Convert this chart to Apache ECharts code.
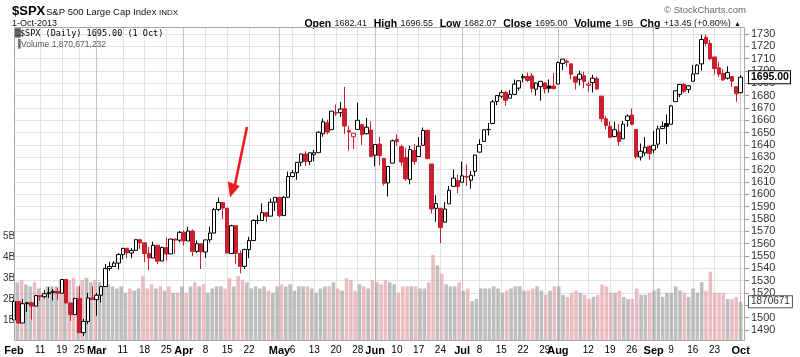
<!DOCTYPE html>
<html><head><meta charset="utf-8">
<script src="https://cdn.jsdelivr.net/npm/echarts@6/dist/echarts.min.js"></script>
<style>html,body{margin:0;padding:0;background:#fff}#c{width:800px;height:357px}</style>
</head><body><div id="c"></div>
<script>
const dates = [
'2013-02-01','2013-02-04','2013-02-05','2013-02-06','2013-02-07','2013-02-08','2013-02-11','2013-02-12','2013-02-13','2013-02-14','2013-02-15','2013-02-19','2013-02-20','2013-02-21','2013-02-22','2013-02-25','2013-02-26','2013-02-27','2013-02-28',
'2013-03-01','2013-03-04','2013-03-05','2013-03-06','2013-03-07','2013-03-08','2013-03-11','2013-03-12','2013-03-13','2013-03-14','2013-03-15','2013-03-18','2013-03-19','2013-03-20','2013-03-21','2013-03-22','2013-03-25','2013-03-26','2013-03-27','2013-03-28',
'2013-04-01','2013-04-02','2013-04-03','2013-04-04','2013-04-05','2013-04-08','2013-04-09','2013-04-10','2013-04-11','2013-04-12','2013-04-15','2013-04-16','2013-04-17','2013-04-18','2013-04-19','2013-04-22','2013-04-23','2013-04-24','2013-04-25','2013-04-26','2013-04-29','2013-04-30',
'2013-05-01','2013-05-02','2013-05-03','2013-05-06','2013-05-07','2013-05-08','2013-05-09','2013-05-10','2013-05-13','2013-05-14','2013-05-15','2013-05-16','2013-05-17','2013-05-20','2013-05-21','2013-05-22','2013-05-23','2013-05-24','2013-05-28','2013-05-29','2013-05-30','2013-05-31',
'2013-06-03','2013-06-04','2013-06-05','2013-06-06','2013-06-07','2013-06-10','2013-06-11','2013-06-12','2013-06-13','2013-06-14','2013-06-17','2013-06-18','2013-06-19','2013-06-20','2013-06-21','2013-06-24','2013-06-25','2013-06-26','2013-06-27','2013-06-28',
'2013-07-01','2013-07-02','2013-07-03','2013-07-05','2013-07-08','2013-07-09','2013-07-10','2013-07-11','2013-07-12','2013-07-15','2013-07-16','2013-07-17','2013-07-18','2013-07-19','2013-07-22','2013-07-23','2013-07-24','2013-07-25','2013-07-26','2013-07-29','2013-07-30','2013-07-31',
'2013-08-01','2013-08-02','2013-08-05','2013-08-06','2013-08-07','2013-08-08','2013-08-09','2013-08-12','2013-08-13','2013-08-14','2013-08-15','2013-08-16','2013-08-19','2013-08-20','2013-08-21','2013-08-22','2013-08-23','2013-08-26','2013-08-27','2013-08-28','2013-08-29','2013-08-30',
'2013-09-03','2013-09-04','2013-09-05','2013-09-06','2013-09-09','2013-09-10','2013-09-11','2013-09-12','2013-09-13','2013-09-16','2013-09-17','2013-09-18','2013-09-19','2013-09-20','2013-09-23','2013-09-24','2013-09-25','2013-09-26','2013-09-27','2013-09-30',
'2013-10-01'];

const opens = [
1498.11,1513.17,1495.71,1511.29,1512.12,1509.39,1517.93,1517.01,1519.43,1520.33,1521.38,1519.79,1530.94,1511.95,1502.42,1515.60,1487.85,1496.94,1515.99,
1514.68,1518.20,1525.20,1539.79,1541.46,1544.26,1551.15,1556.22,1552.48,1554.52,1563.21,1560.70,1552.10,1548.34,1558.71,1545.90,1556.89,1551.69,1563.75,1562.86,
1569.18,1562.17,1570.25,1553.69,1559.98,1553.26,1563.11,1568.61,1587.73,1593.30,1588.84,1552.01,1574.57,1552.03,1541.61,1555.25,1562.50,1578.78,1578.78,1585.16,1582.34,1593.58,
1597.55,1582.77,1597.60,1614.40,1617.55,1625.95,1632.69,1626.69,1632.10,1633.75,1649.13,1658.07,1652.45,1665.71,1666.20,1669.39,1651.62,1646.67,1652.63,1656.57,1649.14,1652.13,
1631.71,1640.73,1629.05,1609.29,1625.27,1644.67,1638.64,1629.94,1612.15,1635.52,1630.64,1639.77,1651.83,1624.62,1588.62,1588.77,1577.52,1592.27,1606.44,1611.12,
1609.78,1614.29,1611.48,1618.65,1634.20,1642.89,1652.50,1657.41,1675.26,1679.59,1682.70,1677.91,1681.05,1686.15,1694.41,1695.53,1696.06,1685.21,1687.31,1690.32,1687.92,1687.76,
1689.42,1706.10,1708.01,1705.79,1695.30,1693.35,1696.10,1688.37,1690.65,1693.88,1679.61,1661.22,1655.25,1646.81,1650.66,1645.03,1659.92,1664.29,1652.54,1630.25,1633.50,1638.89,
1635.95,1640.72,1653.28,1657.44,1656.85,1675.11,1681.04,1689.21,1685.04,1691.70,1697.73,1705.74,1727.34,1722.44,1711.44,1702.60,1698.02,1694.05,1695.52,1687.26,
1682.41];

const highs = [
1514.41,1513.17,1514.96,1512.53,1512.90,1518.31,1518.31,1522.29,1524.69,1523.14,1524.24,1530.94,1530.94,1511.95,1515.64,1525.84,1498.99,1520.08,1525.34,
1519.99,1525.27,1543.47,1545.25,1545.78,1552.48,1556.27,1556.77,1556.39,1563.32,1563.62,1560.70,1557.25,1561.56,1558.71,1557.74,1564.91,1563.95,1564.07,1570.28,
1570.57,1573.66,1571.47,1562.60,1559.98,1563.07,1573.89,1589.07,1597.35,1593.30,1588.84,1575.35,1574.57,1554.38,1555.89,1565.55,1579.58,1583.00,1592.64,1585.78,1596.65,1597.57,
1597.55,1598.60,1618.46,1619.77,1626.03,1632.78,1635.01,1633.70,1636.00,1651.10,1661.49,1660.51,1667.47,1672.84,1674.93,1687.18,1655.50,1649.78,1674.21,1656.57,1661.91,1658.99,
1640.42,1646.53,1629.31,1622.56,1644.40,1648.69,1640.13,1637.71,1639.25,1640.80,1646.50,1654.19,1652.45,1624.62,1599.19,1588.77,1593.79,1606.83,1620.07,1615.94,
1626.61,1624.26,1618.97,1632.07,1644.68,1652.18,1657.92,1676.63,1680.19,1684.51,1683.73,1684.75,1693.12,1692.09,1697.61,1698.78,1698.38,1690.94,1691.85,1690.92,1693.19,1698.43,
1707.85,1709.67,1709.24,1705.79,1695.30,1700.18,1699.42,1691.49,1696.81,1695.52,1679.61,1663.60,1659.18,1658.92,1656.99,1659.55,1664.85,1669.51,1652.54,1641.18,1646.41,1640.08,
1651.35,1655.72,1659.17,1664.83,1672.40,1684.09,1689.13,1689.97,1688.73,1704.95,1705.52,1729.44,1729.86,1725.23,1711.44,1707.63,1701.71,1703.85,1695.52,1687.26,
1696.55];

const lows = [
1498.11,1495.02,1495.71,1504.71,1498.49,1509.39,1513.61,1515.61,1515.93,1514.02,1514.14,1519.79,1511.41,1497.29,1502.42,1487.85,1485.01,1494.88,1514.46,
1501.48,1512.29,1525.20,1538.11,1541.46,1539.28,1547.36,1548.24,1548.25,1554.52,1555.74,1545.13,1538.57,1548.34,1543.55,1545.90,1546.22,1551.69,1551.90,1561.08,
1558.47,1562.17,1549.80,1552.52,1539.50,1548.63,1560.92,1568.61,1586.17,1579.97,1552.28,1552.01,1543.69,1536.03,1539.40,1548.19,1562.50,1575.80,1578.78,1577.56,1582.34,1586.50,
1581.28,1582.77,1597.60,1614.21,1611.82,1622.70,1623.09,1623.71,1626.74,1633.75,1646.68,1648.60,1652.45,1663.52,1662.67,1648.86,1635.53,1636.88,1652.63,1640.05,1648.61,1630.74,
1622.72,1623.62,1607.09,1598.23,1625.27,1639.26,1622.92,1610.92,1608.07,1623.96,1630.34,1639.77,1628.91,1584.32,1577.70,1560.33,1577.09,1592.27,1606.44,1601.06,
1609.78,1606.77,1604.57,1614.71,1634.20,1642.89,1647.66,1657.41,1672.33,1677.89,1671.84,1677.91,1681.05,1684.08,1690.67,1691.13,1682.57,1680.07,1676.03,1681.86,1682.42,1684.94,
1689.42,1700.68,1703.55,1693.29,1684.91,1688.38,1686.02,1683.35,1682.62,1684.83,1658.59,1652.61,1645.84,1646.08,1639.43,1645.03,1654.81,1656.02,1629.05,1627.47,1630.88,1628.05,
1633.41,1637.41,1653.07,1640.62,1656.85,1675.11,1678.70,1681.96,1682.22,1691.70,1697.73,1700.35,1720.20,1708.89,1697.10,1694.90,1691.88,1693.11,1687.11,1674.99,
1682.07];

const closes = [
1513.17,1495.71,1511.29,1512.12,1509.39,1517.93,1517.01,1519.43,1520.33,1521.38,1519.79,1530.94,1511.95,1502.42,1515.60,1487.85,1496.94,1515.99,1514.68,
1518.20,1525.20,1539.79,1541.46,1544.26,1551.18,1556.22,1552.48,1554.52,1563.23,1560.70,1552.10,1548.34,1558.71,1545.80,1556.89,1551.69,1563.77,1562.85,1569.19,
1562.17,1570.25,1553.69,1559.98,1553.28,1563.07,1568.61,1587.73,1593.37,1588.85,1552.36,1574.57,1552.01,1541.61,1555.25,1562.50,1578.78,1578.79,1585.16,1582.24,1593.61,1597.57,
1582.70,1597.59,1614.42,1617.50,1625.96,1632.69,1626.67,1633.70,1633.77,1650.34,1658.78,1650.47,1667.47,1666.29,1669.16,1655.35,1650.51,1649.60,1660.06,1648.36,1654.41,1630.74,
1640.42,1631.38,1608.90,1622.56,1643.38,1642.81,1626.13,1612.52,1636.36,1626.73,1639.04,1651.81,1628.93,1588.19,1592.43,1573.09,1588.03,1603.26,1613.20,1606.28,
1614.96,1614.08,1615.41,1631.89,1640.46,1652.32,1652.62,1675.02,1680.19,1682.50,1676.26,1680.91,1689.37,1692.09,1695.53,1692.39,1685.94,1690.25,1691.65,1685.33,1685.96,1685.73,
1706.87,1709.67,1707.14,1697.37,1690.91,1697.48,1691.42,1689.47,1694.16,1685.39,1661.32,1655.83,1646.06,1652.35,1642.80,1656.96,1663.50,1656.78,1630.48,1634.96,1638.17,1632.97,
1639.77,1653.08,1655.08,1655.17,1671.71,1683.99,1689.13,1683.42,1687.99,1697.60,1704.76,1725.52,1722.34,1709.91,1701.84,1697.42,1692.77,1698.67,1691.75,1681.55,
1695.00];

// volume in billions of shares
const volumes = [
2.8,2.9,2.7,2.6,2.8,2.5,2.3,2.6,2.6,2.6,2.9,2.7,2.9,3.0,2.6,2.9,3.0,2.8,2.9,
2.8,2.6,2.7,2.6,2.5,2.6,2.3,2.5,2.4,2.5,3.1,2.5,2.7,2.5,2.6,2.4,2.6,2.3,2.3,2.6,
2.3,2.6,2.8,2.6,2.7,2.3,2.5,2.6,2.6,2.5,3.0,2.6,3.1,2.9,2.8,2.5,2.6,2.5,2.6,2.4,2.3,2.6,
2.7,2.6,2.7,2.4,2.6,2.6,2.6,2.5,2.3,2.5,2.6,2.6,2.8,2.5,2.4,3.0,2.9,2.4,2.7,2.6,2.5,2.9,
2.8,2.7,2.9,2.8,2.7,2.3,2.6,2.6,2.6,2.6,2.5,2.5,2.8,4.1,3.6,3.2,2.7,2.6,2.6,2.8,
2.4,2.5,1.9,2.0,2.5,2.5,2.5,2.6,2.5,2.3,2.4,2.5,2.6,2.6,2.4,2.4,2.5,2.6,2.4,2.2,2.4,2.6,
2.6,2.2,2.1,2.3,2.4,2.3,2.2,2.0,2.1,2.2,2.7,2.6,2.3,2.3,2.4,2.1,2.0,2.0,2.5,2.2,2.2,2.3,
2.4,2.5,2.1,2.3,2.3,2.6,2.4,2.3,2.1,2.5,2.3,2.8,2.4,3.3,2.3,2.3,2.3,2.0,2.0,2.1,
1.870671232];

const tickDates = ['2013-02-01','2013-02-11','2013-02-19','2013-02-25','2013-03-01','2013-03-11','2013-03-18','2013-03-25','2013-04-01','2013-04-08','2013-04-15','2013-04-22','2013-05-01','2013-05-06','2013-05-13','2013-05-20','2013-05-28','2013-06-03','2013-06-10','2013-06-17','2013-06-24','2013-07-01','2013-07-08','2013-07-15','2013-07-22','2013-07-29','2013-08-01','2013-08-12','2013-08-19','2013-08-26','2013-09-03','2013-09-09','2013-09-16','2013-09-23','2013-10-01'];
const tickLabels = ['Feb','11','19','25','Mar','11','18','25','Apr','8','15','22','May','6','13','20','28','Jun','10','17','24','Jul','8','15','22','29','Aug','12','19','26','Sep','9','16','23','Oct'];
const monthNames = ['Feb','Mar','Apr','May','Jun','Jul','Aug','Sep','Oct'];

const UP = '#000000', DOWN = '#c8202f';
const cats = dates.concat(['']);
const labelOf = {};
tickDates.forEach((d,i)=>labelOf[d]=tickLabels[i]);
const isMonth = d => labelOf[d] !== undefined && monthNames.indexOf(labelOf[d]) >= 0;
const isWeek = d => labelOf[d] !== undefined && !isMonth(d);

const candleData = dates.map((d,i)=>{
  const prev = i>0 ? closes[i-1] : opens[i];
  const col = closes[i] >= prev ? UP : DOWN;
  const hollow = closes[i] > opens[i];
  const fill = hollow ? '#ffffff' : col;
  return {value:[opens[i], closes[i], lows[i], highs[i]],
    itemStyle:{color:fill, color0:fill, borderColor:col, borderColor0:col}};
});
const volData = dates.map((d,i)=>{
  const prev = i>0 ? closes[i-1] : opens[i];
  const down = closes[i] < prev;
  return {value: volumes[i], itemStyle:{color: down ? 'rgba(222,150,158,0.62)' : 'rgba(160,160,160,0.68)'}};
});

const n = dates.length-1;
const last = {o:opens[n],h:highs[n],l:lows[n],c:closes[n],v:volumes[n]};
const chg = last.c - closes[n-1];
const pct = chg/closes[n-1]*100;
const FONT = 'Liberation Sans, Arial, sans-serif';

const chart = echarts.init(document.getElementById('c'), null, {renderer:'canvas'});
const L=14, R=55;
chart.setOption({
  animation:false,
  backgroundColor:'#fff',
  textStyle:{fontFamily:FONT},
  grid:[
    {left:L, right:R, top:27, bottom:16},
    {left:L, right:R, top:34, height:296},
    {left:L, right:R, top:236, height:105}
  ],
  xAxis:[
    {gridIndex:0, type:'category', data:cats, boundaryGap:false, position:'bottom',
     axisLine:{show:false}, axisTick:{show:false},
     axisLabel:{interval:(i,v)=>labelOf[v]!==undefined, margin:4, color:'#000', fontSize:10, fontFamily:FONT,
       formatter:(v)=>isMonth(v)?'{m|'+labelOf[v]+'}':labelOf[v],
       rich:{m:{fontWeight:'bold', fontSize:11, color:'#000', fontFamily:FONT}}},
     splitLine:{show:true, interval:(i,v)=>isWeek(v), lineStyle:{color:'#e2e2e2', width:1}}},
    {gridIndex:0, type:'category', data:cats, boundaryGap:false, position:'bottom',
     axisLine:{show:false}, axisTick:{show:false}, axisLabel:{show:false},
     splitLine:{show:true, interval:(i,v)=>isMonth(v) && i>0, lineStyle:{color:'#c4c4c4', width:1}}},
    {gridIndex:1, type:'category', data:cats, boundaryGap:false, show:false},
    {gridIndex:2, type:'category', data:cats, boundaryGap:false, show:false}
  ],
  yAxis:[
    {gridIndex:0, type:'value', show:false},
    {gridIndex:1, type:'value', position:'right', min:1490, max:1730, interval:10,
     axisLine:{show:false}, axisTick:{show:true, length:4, lineStyle:{color:'#999'}},
     axisLabel:{margin:6, fontSize:11, color:'#333', fontFamily:FONT, formatter:v=>String(v)},
     splitLine:{show:true, lineStyle:{color:'#e2e2e2', width:1}}},
    {gridIndex:2, type:'value', position:'left', min:0, max:5, interval:1,
     axisLine:{show:false}, axisTick:{show:false}, splitLine:{show:false},
     axisLabel:{margin:2, fontSize:10, color:'#333', showMinLabel:false, formatter:v=>v+'B', fontFamily:FONT}}
  ],
  series:[
    {type:'bar', xAxisIndex:3, yAxisIndex:2, data:volData, barWidth:3.6, z:1, silent:true,
     markLine:{silent:true, symbol:'none', lineStyle:{color:'rgba(0,0,0,0)', width:0},
       data:[{yAxis:last.v}],
       label:{show:true, position:'end', distance:4, formatter:()=>String(Math.floor(last.v*1e6)),
         fontSize:10, color:'#333', backgroundColor:'#fff', borderColor:'#555', borderWidth:1, padding:[1,2,0,2], fontFamily:FONT}}},
    {type:'candlestick', xAxisIndex:2, yAxisIndex:1, data:candleData, barWidth:4, z:3, silent:true,
     itemStyle:{borderWidth:1},
     markLine:{silent:true, symbol:'none', lineStyle:{color:'rgba(0,0,0,0)', width:0},
       data:[{yAxis:last.c}],
       label:{show:true, position:'end', distance:4, formatter:()=>last.c.toFixed(2),
         fontSize:10.5, fontWeight:'bold', color:'#000', backgroundColor:'#fff', borderColor:'#000', borderWidth:1, padding:[1,1,0,2], fontFamily:FONT}}}
  ],
  graphic:[
    {type:'rect', z:50, silent:true, shape:{x:14.5, y:27.5, width:730, height:313}, style:{fill:'none', stroke:'#a8a8a8', lineWidth:1}},
    {type:'text', left:12, top:5, style:{text:'$SPX', font:'bold 13px '+FONT, fill:'#000'}},
    {type:'text', left:46, top:7, style:{text:'S&P 500 Large Cap Index', font:'9.5px '+FONT, fill:'#111'}},
    {type:'text', left:159, top:9, style:{text:'INDX', font:'8px '+FONT, fill:'#111'}},
    {type:'text', left:12, top:19, style:{text:'1-Oct-2013', font:'9px '+FONT, fill:'#111'}},
    {type:'text', right:54, top:5, style:{text:'\u00A9 StockCharts.com', font:'9.5px '+FONT, fill:'#666'}},
    {type:'text', right:59, top:18, style:{
      text:'{b|Open} {n|'+last.o.toFixed(2)+'}  {b|High} {n|'+last.h.toFixed(2)+'}  {b|Low} {n|'+last.l.toFixed(2)+'}  {b|Close} {n|'+last.c.toFixed(2)+'}  {b|Volume} {n|'+last.v.toFixed(1)+'B}  {b|Chg} {n|'+(chg>=0?'+':'')+chg.toFixed(2)+' ('+(pct>=0?'+':'')+pct.toFixed(2)+'%)} {s|\u25B2}',
      rich:{b:{font:'bold 10.5px '+FONT, fill:'#000'}, n:{font:'9px '+FONT, fill:'#111'}, s:{font:'7px '+FONT, fill:'#111'}}}},
    {type:'text', left:15, top:29, z:60, style:{text:'\u2593', font:'8px '+FONT, fill:'#333'}},
    {type:'text', left:20, top:29, z:60, style:{text:'$SPX (Daily) '+last.c.toFixed(2)+' (1 Oct)', font:'8.5px DejaVu Sans Mono, monospace', fill:'#000'}},
    {type:'text', left:15, top:40, z:60, style:{text:'\u2590', font:'8px '+FONT, fill:'#777'}},
    {type:'text', left:21, top:40, z:60, style:{text:'Volume '+Math.round(last.v*1e9).toLocaleString('en-US'), font:'8.5px '+FONT, fill:'#555'}},
    {type:'polyline', z:70, shape:{points:[[247,127],[234.5,187]]}, style:{stroke:'#ee1c1c', lineWidth:2.6, fill:null}},
    {type:'polygon', z:70, shape:{points:[[227.8,181.5],[239.8,186],[230,197.5]]}, style:{fill:'#ee1c1c'}}
  ]
});
</script></body></html>
